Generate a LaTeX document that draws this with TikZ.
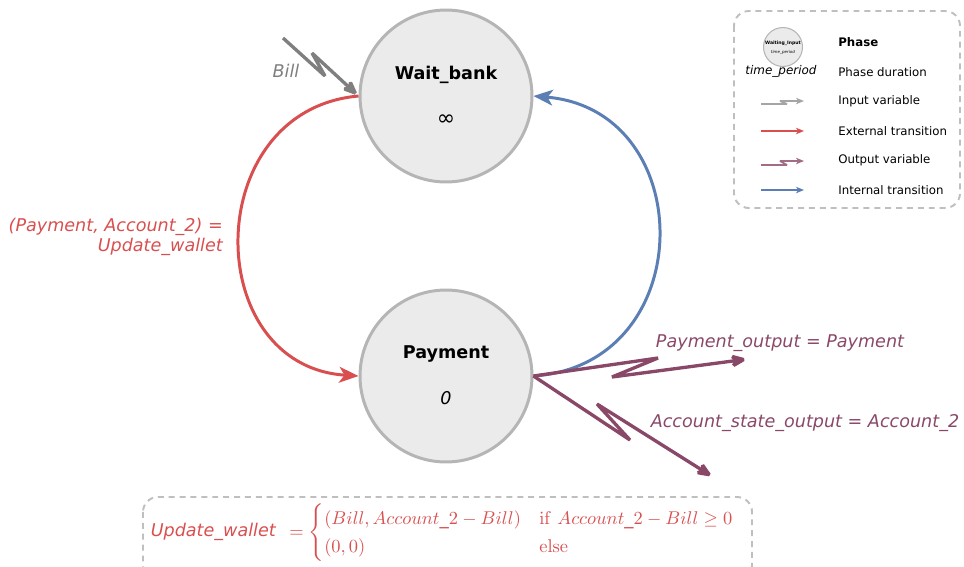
\RequirePackage{fix-cm}
\documentclass[tikz,border=0pt]{standalone}
\usepackage{amsmath}
\usepackage[no-math]{fontspec}
\setmainfont{DejaVu Sans}
\usetikzlibrary{arrows.meta}
\definecolor{cred}{HTML}{D94F4F}
\definecolor{cblue}{HTML}{5B7FB4}
\definecolor{cpurple}{HTML}{8A4868}
\definecolor{cgray}{HTML}{7F7F7F}
\definecolor{circfill}{HTML}{EBEBEB}
\definecolor{circborder}{HTML}{B5B5B5}
\definecolor{dashgray}{HTML}{BFBFBF}
\tikzset{
  phase/.style={circle, draw=circborder, fill=circfill, line width=1.7pt, minimum size=3.44cm, inner sep=0pt},
  legfont/.style={font=\fontsize{6.7}{8}\selectfont, anchor=west, inner sep=0pt},
  bigtip/.style={-{Stealth[length=11pt,width=9pt,inset=3pt]}},
  smalltip/.style={-{Stealth[length=4.5pt,width=3.6pt,inset=1.2pt]}},
  extarrow/.style={draw=cred, line width=1.7pt, bigtip},
  intarrow/.style={draw=cblue, line width=1.7pt, bigtip},
  outarrow/.style={draw=cpurple, line width=1.9pt, bigtip, line join=miter, miter limit=2},
  inarrow/.style={draw=cgray, line width=1.9pt, bigtip, line join=miter, miter limit=2},
  dashbox/.style={draw=dashgray, line width=1.1pt, dash pattern=on 3.4pt off 2.8pt, rounded corners=8.5pt},
}
\begin{document}
\begin{tikzpicture}[x=0.02cm, y=-0.02cm]
\useasboundingbox (0,0) rectangle (964,566);

% phases
\node[phase] (wb) at (446,96) {};
\node[phase] (pay) at (446,376) {};
\node[font=\fontsize{10}{12}\selectfont\bfseries] (wbname) at (446,75) {Wait\_bank};
\node[font=\fontsize{12.5}{14}\selectfont] (wbdur) at (446,120) {∞};
\node[font=\fontsize{10}{12}\selectfont\bfseries] (payname) at (446,354) {Payment};
\node[font=\fontsize{10}{12}\selectfont\itshape] (paydur) at (446,398) {0};

% external transition
\draw[extarrow] (wb.west) .. controls (200,110) and (200,366) .. (pay.west);
\node[text=cred, align=right, anchor=east, font=\fontsize{10}{11.3}\selectfont\itshape] (extlab) at (229,237) {(Payment, Account\_2) =\\Update\_wallet};

% internal transition
\draw[intarrow] (pay.east) .. controls (700,365) and (700,110) .. (wb.east);

% input Bill
\coordinate (bin) at (283,38);
\draw[inarrow] (bin) -- (325,76) -- (312,53) -- (wb.west);
\node[font=\fontsize{10}{12}\selectfont\itshape, text=cgray] (billlab) at (286,71) {Bill};

% outputs
\coordinate (po) at (748,359);
\coordinate (ao) at (713,477);
\draw[outarrow] (pay.east) -- (658,358) -- (612,377) -- (po);
\draw[outarrow] (pay.east) -- (630,440) -- (597,404) -- (ao);
\node[font=\fontsize{10}{12}\selectfont\itshape, text=cpurple] (polab) at (780,343) {Payment\_output = Payment};
\node[font=\fontsize{10}{12}\selectfont\itshape, text=cpurple] (aolab) at (805,423) {Account\_state\_output = Account\_2};

% legend
\draw[dashbox] (734,11) rectangle (960,208);
\node[circle, draw=circborder, fill=circfill, line width=0.6pt, minimum size=0.78cm, inner sep=0pt] (lc) at (783,47) {};
\node[font=\fontsize{2.6}{3}\selectfont\bfseries, inner sep=0pt] (lcname) at (783,43) {Waiting\_Input};
\node[font=\fontsize{2.3}{3}\selectfont\itshape, inner sep=0pt] (lcdur) at (783,52) {time\_period};
\node[font=\fontsize{6.8}{8}\selectfont\itshape, inner sep=0pt] (ltp) at (781,71) {time\_period};
\node[legfont, font=\fontsize{6.7}{8}\selectfont\bfseries] (l1) at (838,42) {Phase};
\node[legfont] (l2) at (838,72) {Phase duration};
\node[legfont] (l3) at (838,101) {Input variable};
\node[legfont] (l4) at (838,131) {External transition};
\node[legfont] (l5) at (838,160) {Output variable};
\node[legfont] (l6) at (838,190) {Internal transition};
\coordinate (li0) at (761,104); \coordinate (li1) at (804,101);
\coordinate (le0) at (761,131); \coordinate (le1) at (804,131);
\coordinate (lo0) at (761,165); \coordinate (lo1) at (804,161);
\coordinate (lt0) at (761,190); \coordinate (lt1) at (804,190);
\draw[draw=cgray!70, line width=1pt, smalltip, line join=bevel] (li0) -- (787,104) -- (780,101) -- (li1);
\draw[draw=cred, line width=1pt, smalltip] (le0) -- (le1);
\draw[draw=cpurple!80, line width=1pt, smalltip, line join=bevel] (lo0) -- (787,165) -- (780,161) -- (lo1);
\draw[draw=cblue, line width=1pt, smalltip] (lt0) -- (lt1);

% bottom formula box
\draw[dashbox] (143,497) rectangle (752,580);
\node[font=\fontsize{10}{12}\selectfont\itshape, text=cred, anchor=east] (uwlab) at (282,532) {Update\_wallet};
\node[text=cred, anchor=west, font=\fontsize{10.5}{13}\selectfont, inner sep=0pt] (uwform) at (289,533)
  {$=\begin{cases}(Bill, Account\_2-Bill) & \mathrm{if}\ Account\_2-Bill\geq 0\\(0,0) & \mathrm{else}\end{cases}$};
\end{tikzpicture}
\end{document}
